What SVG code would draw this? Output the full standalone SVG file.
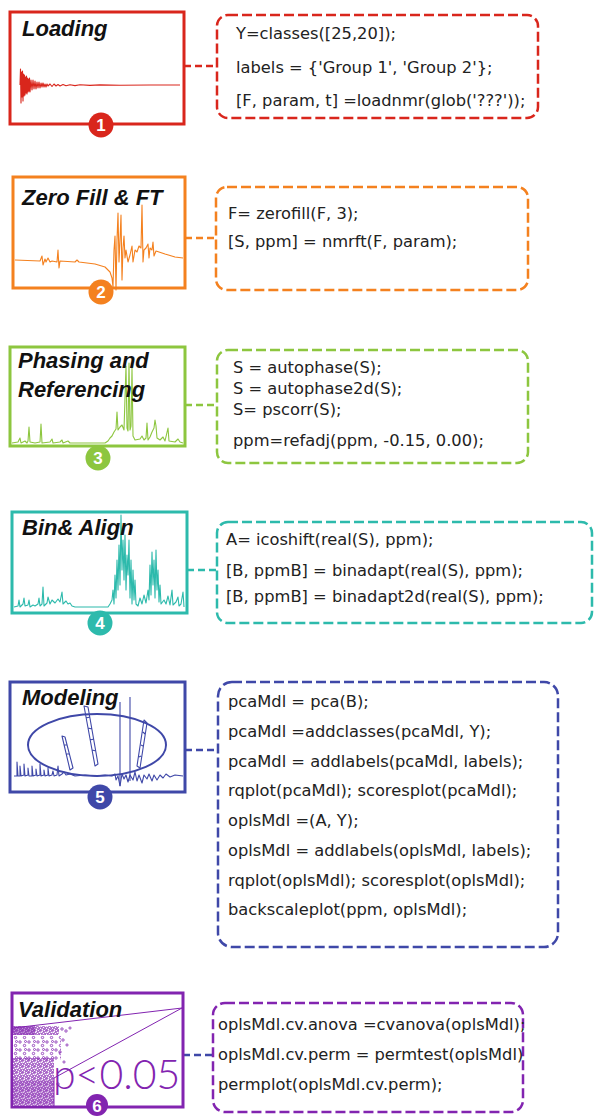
<svg xmlns="http://www.w3.org/2000/svg" width="594" height="1116" viewBox="0 0 594 1116">
  <style>
    .panel { fill: #fff; stroke-width: 3; }
    .code { fill: none; stroke-width: 2.5; stroke-dasharray: 10 4; }
    .conn { fill: none; stroke-width: 2.5; stroke-dasharray: 7 4; }
    .spec { fill: none; stroke-width: 1.1; stroke-linejoin: round; }
    .title { font-family: "Liberation Sans", Arial, sans-serif; font-weight: bold; font-style: italic; font-size: 22px; fill: #111; }
    .src { font-family: "DejaVu Sans", Verdana, sans-serif; font-size: 16.3px; fill: #222; }
    .num { font-family: "Liberation Sans", Arial, sans-serif; font-weight: bold; font-size: 17px; fill: #fff; text-anchor: middle; }
    .red { stroke: #d9261c; }
    .orange { stroke: #f4811f; }
    .green { stroke: #8dc63f; }
    .teal { stroke: #2dbaac; }
    .blue { stroke: #3f48a8; }
    .purple { stroke: #8224b0; }
  </style>
  <defs>
    <pattern id="dotsDense" width="6" height="6" patternUnits="userSpaceOnUse">
      <g fill="none" stroke="#8224b0" stroke-width="0.9">
        <circle cx="1.5" cy="1.5" r="1.2"/>
        <circle cx="4.6" cy="2.3" r="1.2"/>
        <circle cx="2.3" cy="4.6" r="1.2"/>
        <circle cx="5.2" cy="5.3" r="1.1"/>
      </g>
    </pattern>
    <pattern id="dotsSparse" width="9" height="8" patternUnits="userSpaceOnUse">
      <g fill="none" stroke="#8224b0" stroke-width="0.8">
        <circle cx="2" cy="2" r="1.2"/>
        <circle cx="6.5" cy="5.5" r="1.2"/>
        <circle cx="7.5" cy="1.5" r="1"/>
      </g>
    </pattern>
    <clipPath id="valClip">
      <rect x="12" y="993" width="171" height="102"/>
    </clipPath>
  </defs>

  <!-- connectors between step panels and their code -->
  <g id="connectors">
    <line class="conn red" x1="184" y1="66" x2="217" y2="66"/>
    <line class="conn orange" x1="185" y1="238" x2="216" y2="238"/>
    <line class="conn green" x1="185" y1="405" x2="217" y2="405"/>
    <line class="conn teal" x1="187" y1="570" x2="217" y2="570"/>
    <line class="conn blue" x1="185" y1="750" x2="218" y2="750"/>
    <line class="conn blue" x1="183" y1="1055" x2="213" y2="1055"/>
  </g>

  <!-- step 1 -->
  <g id="loading">
    <rect class="panel red" x="10" y="12" width="174" height="112"/>
    <text class="title" x="22" y="36">Loading</text>
    <path class="spec red" stroke-width="1" d="M20,85 L20.5,69 L21,103 L21.5,72 L22,97 L22.5,71 L23,101 L23.5,74 L24,96 L24.5,75 L25,95 L25.5,77 L26,93 L26.5,76 L27,94 L27.5,78 L28,92 L28.5,79 L29,91 L29.5,78 L30,92 L31,80 L32,90 L33,80 L34,89 L35,81 L36,89 L37,82 L38,88 L39,82 L40,88 L41,83 L42,87 L43,83 L44,87 L45,84 L46,87 L47,84 L48,86 L50,84 L52,86.5 L54,84 L56,86 L58,84.5 L60,86 L63,84.5 L66,85.8 L70,84.7 L75,85.6 L80,84.8 L90,85.4 L100,84.9 L120,85.3 L150,85 L180,85"/>
    <circle cx="101" cy="125" r="12.5" fill="#d9261c"/>
    <text class="num" x="101" y="131">1</text>
  </g>
  <g id="loading-code">
    <rect class="code red" x="217" y="15" width="321" height="103" rx="11"/>
    <text class="src" x="236" y="39">Y=classes([25,20]);</text>
    <text class="src" x="236" y="72.5">labels = {'Group 1', 'Group 2'};</text>
    <text class="src" x="236" y="106">[F, param, t] =loadnmr(glob('???'));</text>
  </g>

  <!-- step 2 -->
  <g id="zerofill">
    <rect class="panel orange" x="13" y="177" width="172" height="111"/>
    <text class="title" x="22" y="205">Zero Fill &amp; FT</text>
    <path class="spec orange" d="M15,260 L40,261 L42,256 L43,265 L45,259 L46,262 L48,258 L50,262 L52,261 L57,262 L58,250 L59,268 L60,261 L75,262 L77,260 L79,262 L95,264 L105,267 L110,272 L112,278 L113,287 L114,250 L115,236 L116,290 L117,240 L118,213 L119,262 L120,240 L121,215 L122,280 L123,248 L124,236 L125,258 L126,250 L128,262 L130,255 L132,246 L133,262 L135,250 L137,252 L139,246 L141,248 L142,205 L143,262 L144,250 L146,248 L148,244 L149,258 L150,248 L152,250 L153,242 L154,256 L156,251 L165,254 L175,257 L183,258"/>
    <circle cx="101" cy="292" r="12.5" fill="#f4811f"/>
    <text class="num" x="101" y="298">2</text>
  </g>
  <g id="zerofill-code">
    <rect class="code orange" x="216" y="187" width="312" height="103" rx="11"/>
    <text class="src" x="228" y="219">F= zerofill(F, 3);</text>
    <text class="src" x="228" y="247">[S, ppm] = nmrft(F, param);</text>
  </g>

  <!-- step 3 -->
  <g id="phasing">
    <rect class="panel green" x="10" y="347" width="175" height="99"/>
    <path class="spec green" d="M12,443 L18,442 L20,438 L21,443 L25,441 L27,443 L28,441 L29,427 L30,442 L35,443 L40,442 L41,424 L42,443 L50,442 L52,439 L53,443 L60,442 L62,440 L63,443 L68,441 L70,443 L105,443 L108,441 L110,438 L112,436 L114,432 L116,429 L117,412 L118,430 L120,427 L122,425 L124,430 L126,366 L127,428 L128,431 L129,363 L130,430 L131,426 L132,368 L133,436 L135,440 L140,439 L142,436 L144,440 L146,438 L147,423 L148,440 L150,437 L152,432 L154,428 L155,420 L156,426 L157,438 L160,440 L163,437 L165,441 L168,428 L169,441 L175,442 L178,439 L180,442 L183,443"/>
    <text class="title" x="18" y="368">Phasing and</text>
    <text class="title" x="18" y="397">Referencing</text>
    <circle cx="98" cy="458" r="12.5" fill="#8dc63f"/>
    <text class="num" x="98" y="464">3</text>
  </g>
  <g id="phasing-code">
    <rect class="code green" x="217" y="350" width="311" height="113" rx="11"/>
    <text class="src" x="233" y="373">S = autophase(S);</text>
    <text class="src" x="233" y="394">S = autophase2d(S);</text>
    <text class="src" x="233" y="415">S= pscorr(S);</text>
    <text class="src" x="233" y="446">ppm=refadj(ppm, -0.15, 0.00);</text>
  </g>

  <!-- step 4 -->
  <g id="binning">
    <rect class="panel teal" x="12" y="512" width="175" height="101"/>
    <path class="spec teal" d="M14,607 L18,606 L19,600 L20,607 L23,604 L24,598 L25,606 L28,605 L29,600 L30,607 L33,605 L35,606 L38,604 L39,598 L40,606 L42,604 L43,587 L44,606 L47,603 L48,597 L50,604 L52,600 L55,603 L58,599 L60,602 L62,592 L63,604 L66,601 L68,604 L70,603 L72,606 L75,607 L108,607 L110,604 L112,600 L113,590 L114,604 L115,575 L116,598 L117,560 L118,590 L119,545 L120,585 L121,515 L122,570 L123,540 L124,580 L125,535 L126,590 L127,555 L128,575 L129,540 L130,598 L131,560 L132,604 L133,570 L134,600 L135,580 L136,604 L138,606 L140,598 L142,604 L144,595 L146,603 L148,590 L149,600 L150,565 L151,595 L152,552 L153,585 L154,560 L155,598 L156,550 L157,590 L158,570 L159,602 L160,585 L161,604 L164,600 L166,604 L168,596 L170,605 L172,590 L173,605 L176,602 L178,597 L179,606 L181,604 L183,592 L184,607"/>
    <text class="title" x="22" y="535">Bin&amp; Align</text>
    <circle cx="100" cy="623" r="12.5" fill="#2dbaac"/>
    <text class="num" x="100" y="629">4</text>
  </g>
  <g id="binning-code">
    <rect class="code teal" x="217" y="522" width="375" height="101" rx="11"/>
    <text class="src" x="226" y="545">A= icoshift(real(S), ppm);</text>
    <text class="src" x="226" y="576">[B, ppmB] = binadapt(real(S), ppm);</text>
    <text class="src" x="226" y="602" font-size="18.3">[B, ppmB] = binadapt2d(real(S), ppm);</text>
  </g>

  <!-- step 5 -->
  <g id="modeling">
    <rect class="panel blue" x="10" y="682" width="175" height="110"/>
    <text class="title" x="22" y="705">Modeling</text>
    <path class="spec blue" d="M14,776 L17,776 L17,762 L18,776 L20,776 L20,766 L21,776 L24,775 L24,764 L25,776 L28,775 L28,768 L29,776 L32,776 L32,766 L33,776 L36,775 L36,769 L37,776 L40,775 L40,764 L41,776 L44,775 L44,770 L45,776 L48,775 L48,768 L49,776 L52,775 L53,771 L54,776 L57,775 L58,766 L59,776 L62,774 L64,772 L66,775 L70,774 L75,776 L85,775 L95,776 L105,775 L112,776 L115,774 L116,780 L118,776 L120,786 L122,774 L124,779 L126,775 L128,782 L130,775 L133,780 L135,772 L137,781 L139,775 L142,783 L144,775 L147,779 L149,774 L152,781 L154,775 L157,780 L160,775 L163,778 L166,774 L170,777 L175,775 L183,776"/>
    <line class="spec blue" x1="120" y1="702" x2="120" y2="786"/>
    <line class="spec blue" x1="130" y1="697" x2="130" y2="781"/>
    <path class="spec blue" d="M62,736 L65,737 L73,768 L70,770 Z M64,745 L67,745 M66,754 L69,754"/>
    <path class="spec blue" d="M84,706 L88,707 L98,764 L95,766 Z M86,718 L90,717 M88,728 L92,729 M90,740 L94,739 M92,750 L96,751"/>
    <path class="spec blue" d="M144,720 L147,723 L140,768 L137,766 Z M143,732 L145,734 M141,745 L143,746 M139,757 L141,756"/>
    <ellipse cx="97" cy="745" rx="69" ry="31" fill="none" stroke="#3f48a8" stroke-width="2"/>
    <circle cx="100" cy="797" r="12.5" fill="#3f48a8"/>
    <text class="num" x="100" y="803">5</text>
  </g>
  <g id="modeling-code">
    <rect class="code blue" x="218" y="682" width="340" height="265" rx="14"/>
    <text class="src" x="228" y="707">pcaMdl = pca(B);</text>
    <text class="src" x="228" y="737">pcaMdl =addclasses(pcaMdl, Y);</text>
    <text class="src" x="228" y="767">pcaMdl = addlabels(pcaMdl, labels);</text>
    <text class="src" x="228" y="796">rqplot(pcaMdl); scoresplot(pcaMdl);</text>
    <text class="src" x="228" y="826">oplsMdl =(A, Y);</text>
    <text class="src" x="228" y="856">oplsMdl = addlabels(oplsMdl, labels);</text>
    <text class="src" x="228" y="886">rqplot(oplsMdl); scoresplot(oplsMdl);</text>
    <text class="src" x="228" y="915">backscaleplot(ppm, oplsMdl);</text>
  </g>

  <!-- step 6 -->
  <g id="validation">
    <rect class="panel purple" x="12" y="993" width="171" height="114"/>
    <g clip-path="url(#valClip)">
      <text x="53" y="1089" font-family="Lato, 'Liberation Sans', sans-serif" font-weight="300" font-size="41" fill="#8224b0">p&lt;0.05</text>
    </g>
    <rect x="13" y="1026" width="41" height="80" fill="#fff"/>
    <rect x="13" y="1036" width="48" height="24" fill="url(#dotsSparse)"/>
    <rect x="13" y="1058" width="41" height="48" fill="url(#dotsDense)"/>
    <rect x="13" y="1080" width="41" height="26" fill="#8224b0" opacity="0.25"/>
    <rect x="13" y="1026" width="46" height="9" fill="url(#dotsDense)"/>
    <rect x="13" y="1026" width="22" height="9" fill="#8224b0" opacity="0.5"/>
    <g fill="none" stroke="#8224b0" stroke-width="0.8">
      <circle cx="62" cy="1029" r="1.2"/>
      <circle cx="66" cy="1031" r="1.2"/>
      <circle cx="70" cy="1028" r="1.1"/>
      <circle cx="63" cy="1040" r="1.2"/>
      <circle cx="67" cy="1045" r="1.1"/>
      <circle cx="60" cy="1052" r="1.2"/>
      <circle cx="64" cy="1062" r="1.1"/>
      <circle cx="58" cy="1084" r="1.2"/>
    </g>
    <g stroke="#8224b0" stroke-width="1" fill="none">
      <line x1="182" y1="1008" x2="13" y2="1028"/>
      <line x1="182" y1="1008" x2="54" y2="1078"/>
      <line x1="54" y1="1078" x2="54" y2="1106"/>
    </g>
    <text class="title" x="18" y="1017">Validation</text>
    <circle cx="97" cy="1105" r="11" fill="#8224b0"/>
    <text class="num" x="97" y="1111.5" font-size="14">6</text>
  </g>
  <g id="validation-code">
    <rect class="code purple" x="213" y="1003" width="310" height="109" rx="12"/>
    <text class="src" x="218" y="1030">oplsMdl.cv.anova =cvanova(oplsMdl);</text>
    <text class="src" x="218" y="1060">oplsMdl.cv.perm = permtest(oplsMdl)</text>
    <text class="src" x="218" y="1090">permplot(oplsMdl.cv.perm);</text>
  </g>
</svg>
